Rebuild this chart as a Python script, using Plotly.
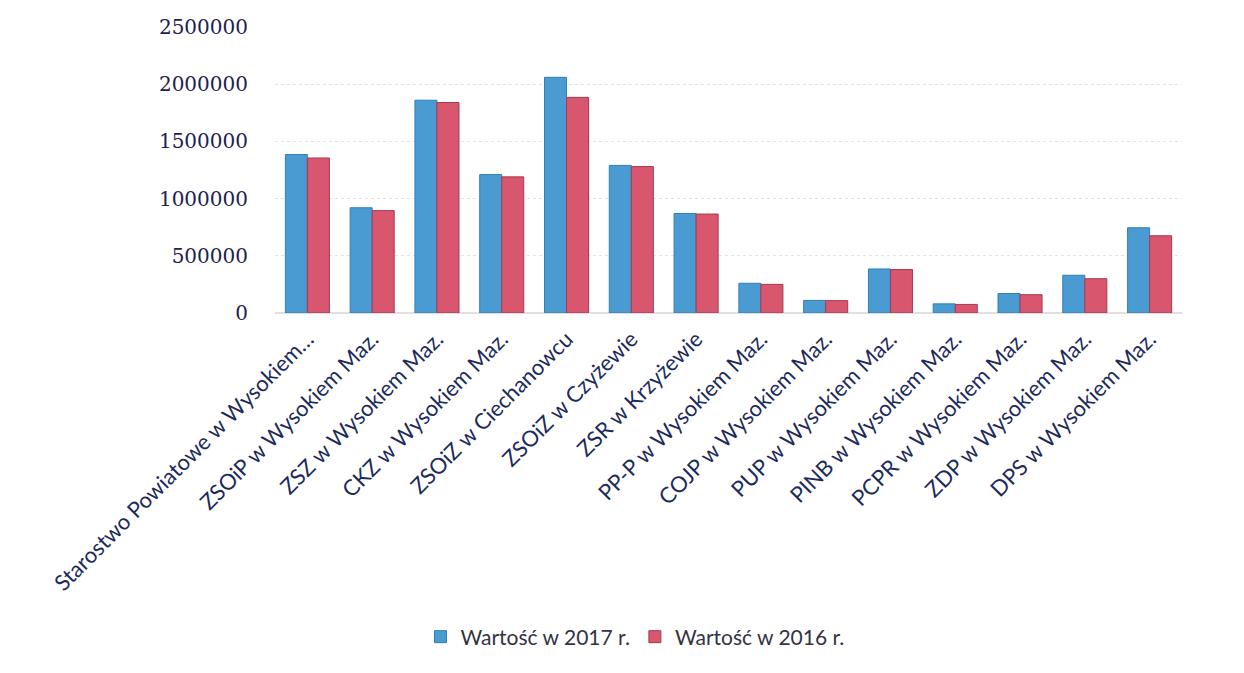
import plotly.graph_objects as go

categories = [
    "Starostwo Powiatowe w Wysokiem…",
    "ZSOiP w Wysokiem Maz.",
    "ZSZ w Wysokiem Maz.",
    "CKZ w Wysokiem Maz.",
    "ZSOiZ w Ciechanowcu",
    "ZSOiZ w Czyżewie",
    "ZSR w Krzyżewie",
    "PP-P w Wysokiem Maz.",
    "COJP w Wysokiem Maz.",
    "PUP w Wysokiem Maz.",
    "PINB w Wysokiem Maz.",
    "PCPR w Wysokiem Maz.",
    "ZDP w Wysokiem Maz.",
    "DPS w Wysokiem Maz.",
]
values_2017 = [1385000, 920000, 1860000, 1210000, 2060000, 1290000, 870000,
               260000, 110000, 385000, 80000, 170000, 330000, 745000]
values_2016 = [1355000, 895000, 1840000, 1190000, 1885000, 1280000, 865000,
               250000, 108000, 380000, 75000, 160000, 300000, 675000]
series_names = ["Wartość w 2017 r.", "Wartość w 2016 r."]
y_ticks = [0, 500000, 1000000, 1500000, 2000000, 2500000]

blue = "#4A9BD2"
red = "#D9566F"

fig = go.Figure()
fig.add_trace(go.Bar(x=categories, y=values_2017, name=series_names[0],
                     marker=dict(color=blue, line=dict(color="#2F7FB5", width=1))))
fig.add_trace(go.Bar(x=categories, y=values_2016, name=series_names[1],
                     marker=dict(color=red, line=dict(color="#A8394F", width=1))))

fig.update_layout(
    width=1244, height=673,
    paper_bgcolor="white", plot_bgcolor="white",
    margin=dict(l=267, r=70, t=19, b=368, autoexpand=False),
    barmode="group", bargap=0.32, bargroupgap=0,
    showlegend=True,
    legend=dict(orientation="h", x=0.504, xref="container", xanchor="center",
                y=1 - 629 / 673, yref="container", yanchor="middle",
                font=dict(family="Lato, Open Sans, sans-serif", size=21, color="#333344"),
                itemwidth=30, traceorder="normal"),
    xaxis=dict(tickangle=-45, ticklabelstandoff=8,
               tickfont=dict(family="Lato, Open Sans, sans-serif", size=22, color="#1C2A5C"),
               showgrid=False, showline=False, ticks=""),
    yaxis=dict(range=[0, 2500000], tickvals=y_ticks, ticktext=[str(v) for v in y_ticks],
               tickfont=dict(family="DejaVu Serif, Liberation Serif, serif", size=20, color="#1F2050"),
               showgrid=True, gridcolor="#E4E4E4", griddash="dot", gridwidth=1,
               zeroline=True, zerolinecolor="#E0E0E0", ticklabelstandoff=26, showline=False),
)

fig.write_html("out.html")
